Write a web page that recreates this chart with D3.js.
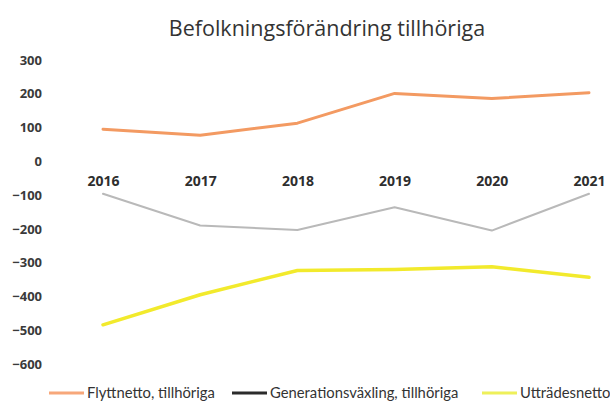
<!DOCTYPE html>
<html>
<head>
<meta charset="utf-8">
<script src="https://cdn.jsdelivr.net/npm/d3@7"></script>
<style>
    body { margin: 0; background: #fff; }
    svg { display: block; }
</style>
</head>
<body>
<div id="container"></div>
<script>
// ---------------------------------------------------------------------
// Data
const years = ["2016", "2017", "2018", "2019", "2020", "2021"];
const flyttnetto = [95, 77, 113, 201, 186, 203];
const generationsvaxling = [-96, -190, -203, -136, -205, -96];
const uttradesnetto = [-484, -395, -323, -320, -312, -343];
const yTicks = [300, 200, 100, 0, -100, -200, -300, -400, -500, -600];

const series = [
    { name: "Flyttnetto, tillhöriga", values: flyttnetto, color: "#f39a62", legendColor: "#f7a77a", width: 3 },
    { name: "Generationsväxling, tillhöriga", values: generationsvaxling, color: "#b9b9b9", legendColor: "#2b2b2b", width: 2 },
    { name: "Utträdesnetto", values: uttradesnetto, color: "#f2ea2c", legendColor: "#eef05a", width: 3.5 },
];

// ---------------------------------------------------------------------
// Chart
const width = 610;
const height = 408;

const svg = d3.select("#container").append("svg")
    .attr("width", width)
    .attr("height", height);

const x = d3.scalePoint()
    .domain(years)
    .range([103, 589]);

const y = d3.scaleLinear()
    .domain([-600, 300])
    .range([364, 60]);

// Title
svg.append("text")
    .attr("x", 327)
    .attr("y", 36)
    .attr("text-anchor", "middle")
    .style("font-family", "'Open Sans', sans-serif")
    .style("font-size", "21.5px")
    .style("fill", "#333")
    .text("Befolkningsförändring tillhöriga");

// Y axis (labels only)
const yAxis = svg.append("g")
    .attr("transform", "translate(42,0)")
    .call(d3.axisLeft(y).tickValues(yTicks).tickSize(0).tickPadding(0));
yAxis.select(".domain").remove();
yAxis.selectAll("text")
    .style("font-family", "'Open Sans', sans-serif")
    .style("font-weight", "bold")
    .style("font-size", "13px")
    .style("fill", "#3a3a3a");

// X axis labels sit just under the zero line
const xAxis = svg.append("g")
    .attr("transform", `translate(0,${y(0) + 15})`)
    .call(d3.axisBottom(x).tickSize(0).tickPadding(0));
xAxis.select(".domain").remove();
xAxis.selectAll("text")
    .style("font-family", "'Open Sans', sans-serif")
    .style("font-weight", "bold")
    .style("font-size", "14px")
    .style("fill", "#2e2e2e");

// Lines
const line = d3.line()
    .x((d, i) => x(years[i]))
    .y(d => y(d));

series.forEach(s => {
    svg.append("path")
        .datum(s.values)
        .attr("fill", "none")
        .attr("stroke", s.color)
        .attr("stroke-width", s.width)
        .attr("stroke-linejoin", "round")
        .attr("stroke-linecap", "round")
        .attr("d", line);
});

// Legend
const legendX = [49, 232, 482];
const legend = svg.append("g").attr("transform", "translate(0,393)");
series.forEach((s, i) => {
    const g = legend.append("g").attr("transform", `translate(${legendX[i]},0)`);
    g.append("line")
        .attr("x1", 0).attr("x2", 35)
        .attr("y1", 0).attr("y2", 0)
        .attr("stroke", s.legendColor)
        .attr("stroke-width", 3);
    g.append("text")
        .attr("x", 38)
        .attr("dy", "0.35em")
        .style("font-family", "Lato, sans-serif")
        .style("font-size", "14.8px")
        .style("fill", "#333")
        .text(s.name);
});
</script>
</body>
</html>
